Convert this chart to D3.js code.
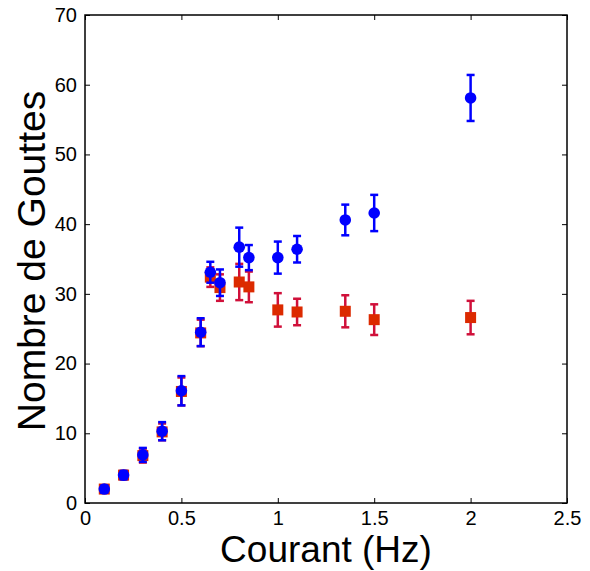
<!DOCTYPE html>
<html>
<head>
<meta charset="utf-8">
<script src="https://cdn.jsdelivr.net/npm/d3@7"></script>
<style>
  body { margin: 0; background: #fff; }
  text { font-family: "Liberation Sans", Arial, Helvetica, sans-serif; fill: #000; }
</style>
</head>
<body>
<svg id="chart"></svg>
<script>
// ---- data ----
var courant = [0.1, 0.2, 0.3, 0.4, 0.5, 0.6, 0.65, 0.7, 0.8, 0.85, 1.0, 1.1, 1.35, 1.5, 2.0];

var bleuVal = [2.0, 4.0, 6.9, 10.3, 16.1, 24.5, 33.1, 31.6, 36.7, 35.2, 35.2, 36.4, 40.6, 41.6, 58.1];
var bleuErr = [0.5, 0.6, 1.0, 1.3, 2.1, 2.0, 1.5, 1.9, 2.8, 1.8, 2.3, 1.9, 2.2, 2.6, 3.3];

var rougeVal = [2.0, 4.0, 6.8, 10.2, 16.0, 24.4, 32.4, 30.9, 31.7, 31.0, 27.7, 27.4, 27.5, 26.3, 26.6];
var rougeErr = [0.5, 0.6, 1.0, 1.2, 2.0, 1.9, 1.4, 1.9, 2.6, 2.2, 2.4, 1.9, 2.3, 2.2, 2.4];

var xTicks = [0, 0.5, 1, 1.5, 2, 2.5];
var yTicks = [0, 10, 20, 30, 40, 50, 60, 70];

// ---- layout ----
var width = 590, height = 571;
var margin = {left: 85, top: 15, right: 23, bottom: 68};
var plotW = width - margin.left - margin.right;
var plotH = height - margin.top - margin.bottom;

var svg = d3.select("#chart")
  .attr("width", width)
  .attr("height", height);

var x = d3.scaleLinear().domain([0, 2.5]).range([0, plotW]);
var y = d3.scaleLinear().domain([0, 70]).range([plotH, 0]);

var g = svg.append("g")
  .attr("transform", "translate(" + margin.left + "," + margin.top + ")");

// axes, ticks pointing inward on all sides
var fmt = d3.format("");
g.append("g")
  .attr("transform", "translate(0," + plotH + ")")
  .call(d3.axisBottom(x).tickValues(xTicks).tickSize(-5).tickPadding(8).tickFormat(fmt))
  .call(a => a.selectAll("text").attr("font-size", 20).attr("dy", "0.71em"));

g.append("g")
  .call(d3.axisLeft(y).tickValues(yTicks).tickSize(-5).tickPadding(8))
  .call(a => a.selectAll("text").attr("font-size", 20));

g.append("g")
  .call(d3.axisTop(x).tickValues(xTicks).tickSize(-5).tickFormat(""));

g.append("g")
  .attr("transform", "translate(" + plotW + ",0)")
  .call(d3.axisRight(y).tickValues(yTicks).tickSize(-5).tickFormat(""));

g.selectAll(".domain").remove();
g.selectAll(".tick line").attr("stroke", "#000").attr("stroke-width", 1);

g.append("rect")
  .attr("width", plotW)
  .attr("height", plotH)
  .attr("fill", "none")
  .attr("stroke", "#000")
  .attr("stroke-width", 1.5);

// ---- series ----
function drawSeries(vals, errs, barColor, cls) {
  var pts = courant.map((c, i) => ({x: c, v: vals[i], e: errs[i]}));
  var s = g.append("g").attr("class", cls);

  s.selectAll(".bar")
    .data(pts)
    .enter()
    .append("line")
      .attr("x1", d => x(d.x))
      .attr("x2", d => x(d.x))
      .attr("y1", d => y(d.v - d.e))
      .attr("y2", d => y(d.v + d.e))
      .attr("stroke", barColor)
      .attr("stroke-width", 2.5);

  [-1, 1].forEach(function(sign) {
    s.selectAll(".cap" + sign)
      .data(pts)
      .enter()
      .append("line")
        .attr("x1", d => x(d.x) - 4)
        .attr("x2", d => x(d.x) + 4)
        .attr("y1", d => y(d.v + sign * d.e))
        .attr("y2", d => y(d.v + sign * d.e))
        .attr("stroke", barColor)
        .attr("stroke-width", 2.5);
  });
  return {s: s, pts: pts};
}

var rouge = drawSeries(rougeVal, rougeErr, "#d0103a", "rouge");
rouge.s.selectAll(".sq")
  .data(rouge.pts)
  .enter()
  .append("rect")
    .attr("x", d => x(d.x) - 5.5)
    .attr("y", d => y(d.v) - 5.5)
    .attr("width", 11)
    .attr("height", 11)
    .attr("fill", "#dc2a00");

var bleu = drawSeries(bleuVal, bleuErr, "#0000ff", "bleu");
bleu.s.selectAll(".pt")
  .data(bleu.pts)
  .enter()
  .append("circle")
    .attr("cx", d => x(d.x))
    .attr("cy", d => y(d.v))
    .attr("r", 5.8)
    .attr("fill", "#0000ff");

// ---- titles ----
svg.append("text")
  .attr("x", margin.left + plotW / 2)
  .attr("y", 562)
  .attr("text-anchor", "middle")
  .attr("font-size", 37)
  .text("Courant (Hz)");

svg.append("text")
  .attr("transform", "translate(45," + (margin.top + 246) + ") rotate(-90)")
  .attr("text-anchor", "middle")
  .attr("font-size", 39)
  .text("Nombre de Gouttes");
</script>
</body>
</html>
